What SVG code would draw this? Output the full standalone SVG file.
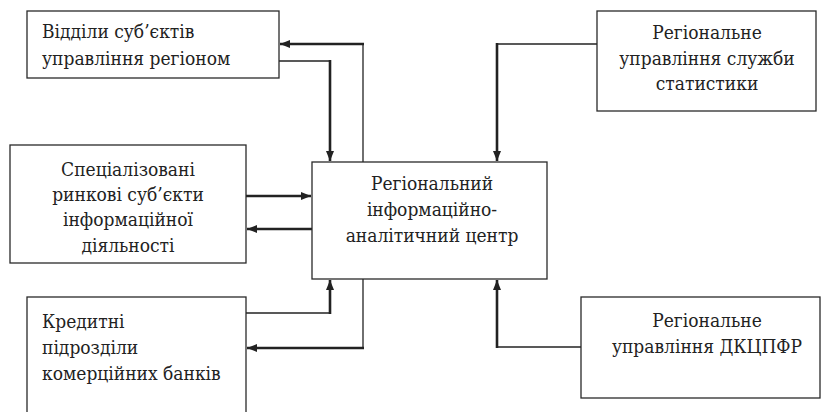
<svg xmlns="http://www.w3.org/2000/svg" width="821" height="412" viewBox="0 0 821 412">
<style>
.box{fill:#fff;stroke:#2a2a2a;stroke-width:1.3}
.c{text-anchor:middle}
.thin{fill:none;stroke:#222;stroke-width:1.3}
.thick{fill:none;stroke:#222;stroke-width:2.6}
text{font-family:"DejaVu Serif Condensed","DejaVu Serif",serif;font-stretch:condensed;font-size:19px;fill:#222}
</style>
<defs>
<marker id="ah" viewBox="0 0 10 8" refX="10" refY="4" markerWidth="10" markerHeight="8" markerUnits="userSpaceOnUse" orient="auto">
<path d="M0,0 L10,4 L0,8 Z" fill="#222"/>
</marker>
</defs>
<rect width="821" height="412" fill="#fff"/>
<g id="connectors">
<path class="thin" d="M363,162 V44"/>
<path class="thick" d="M364,44 H280" marker-end="url(#ah)"/>
<path class="thin" d="M279,61 H330"/>
<path class="thick" d="M330,60 V161" marker-end="url(#ah)"/>
<path class="thick" d="M246,196 H311" marker-end="url(#ah)"/>
<path class="thick" d="M312,229 H247" marker-end="url(#ah)"/>
<path class="thin" d="M246,313 H330"/>
<path class="thick" d="M330,314 V280" marker-end="url(#ah)"/>
<path class="thin" d="M363,279 V348"/>
<path class="thick" d="M364,348 H247" marker-end="url(#ah)"/>
<path class="thin" d="M597,44 H497"/>
<path class="thick" d="M497,43 V161" marker-end="url(#ah)"/>
<path class="thin" d="M581,347 H497"/>
<path class="thick" d="M497,348 V280" marker-end="url(#ah)"/>
</g>
<g id="n1">
<rect class="box" x="27" y="11" width="252" height="67"/>
<text x="42" y="38">Відділи суб’єктів</text>
<text x="42" y="65">управління регіоном</text>
</g>
<g id="n2">
<rect class="box" x="10" y="145" width="236" height="118"/>
<text class="c" x="128" y="176">Спеціалізовані</text>
<text class="c" x="128" y="201">ринкові суб’єкти</text>
<text class="c" x="128" y="226">інформаційної</text>
<text class="c" x="128" y="252">діяльності</text>
</g>
<g id="n3">
<rect class="box" x="27" y="297" width="219" height="120"/>
<text x="42" y="328">Кредитні</text>
<text x="42" y="354">підрозділи</text>
<text x="42" y="380">комерційних банків</text>
</g>
<g id="center">
<rect class="box" x="312" y="162" width="235" height="117"/>
<text class="c" x="432" y="190">Регіональний</text>
<text class="c" x="432" y="216">інформаційно-</text>
<text class="c" x="432" y="242">аналітичний центр</text>
</g>
<g id="n4">
<rect class="box" x="597" y="11" width="219" height="100"/>
<text class="c" x="707" y="39">Регіональне</text>
<text class="c" x="707" y="65">управління служби</text>
<text class="c" x="707" y="90">статистики</text>
</g>
<g id="n5">
<rect class="box" x="581" y="297" width="239" height="101"/>
<text class="c" x="707" y="327">Регіональне</text>
<text class="c" x="707" y="353">управління ДКЦПФР</text>
</g>
</svg>
